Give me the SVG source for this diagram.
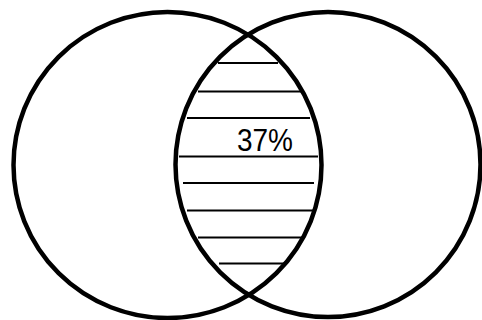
<svg xmlns="http://www.w3.org/2000/svg" width="482" height="320" viewBox="0 0 482 320">
  <style>
    .set { fill: none; stroke: #000; stroke-width: 4.5; }
    .hatch { stroke: #000; stroke-width: 2.2; stroke-linecap: butt; }
    .label { font-family: "Liberation Sans", Arial, sans-serif; font-size: 32px; fill: #000; }
  </style>
  <rect width="482" height="320" fill="#fff"/>
  <g id="intersection">
    <line class="hatch" x1="218" y1="63" x2="278" y2="63"/>
    <line class="hatch" x1="198" y1="91.5" x2="301" y2="91.5"/>
    <line class="hatch" x1="187" y1="118" x2="310" y2="118"/>
    <line class="hatch" x1="179" y1="156.5" x2="318" y2="156.5"/>
    <line class="hatch" x1="183" y1="183" x2="314" y2="183"/>
    <line class="hatch" x1="187" y1="210.5" x2="313" y2="210.5"/>
    <line class="hatch" x1="198" y1="237.5" x2="302" y2="237.5"/>
    <line class="hatch" x1="219" y1="263.5" x2="287" y2="263.5"/>
    <text class="label" x="237" y="151" textLength="56" lengthAdjust="spacingAndGlyphs">37%</text>
  </g>
  <g id="set-left">
    <ellipse class="set" cx="167.5" cy="165" rx="154" ry="153"/>
  </g>
  <g id="set-right">
    <ellipse class="set" cx="328" cy="164.5" rx="152.5" ry="152.5"/>
  </g>
</svg>
